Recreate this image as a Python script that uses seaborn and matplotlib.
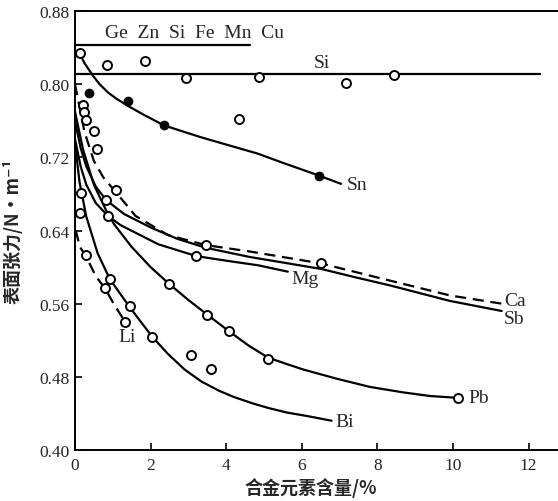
import numpy as np
import pandas as pd
import seaborn as sns
import matplotlib.pyplot as plt

# curves (alloy content %, surface tension N/m)
sn_x = [0.12, 0.25, 0.48, 0.65, 0.87, 1.1, 1.41, 1.8, 2.35, 2.8, 3.33, 4.0, 4.84, 5.5, 6.46, 7.04]
sn_y = [0.834, 0.823, 0.809, 0.800, 0.791, 0.784, 0.776, 0.767, 0.755, 0.749, 0.742, 0.734, 0.724, 0.714, 0.700, 0.691]
sn_pts_x = [0.37, 1.41, 2.35, 6.46]
sn_pts_y = [0.790, 0.782, 0.755, 0.700]

si_x = [0, 12.3]
si_y = [0.811, 0.811]
si_pts_x = [0.12, 0.85, 1.86, 2.95, 4.33, 4.87, 7.17, 8.44]
si_pts_y = [0.834, 0.821, 0.825, 0.807, 0.762, 0.808, 0.801, 0.810]

ge_x = [0, 4.63]
ge_y = [0.843, 0.843]

ca_x = [0, 0.25, 0.5, 0.75, 1.08, 1.6, 2.46, 3.47, 4.63, 6.51, 8.16, 9.92, 11.29]
ca_y = [0.80, 0.748, 0.716, 0.698, 0.682, 0.656, 0.635, 0.624, 0.617, 0.604, 0.587, 0.569, 0.560]
ca_pts_x = [0.22, 0.25, 0.29, 0.50, 0.57, 1.08, 3.47, 6.51]
ca_pts_y = [0.777, 0.770, 0.761, 0.749, 0.729, 0.684, 0.624, 0.604]

sb_x = [0, 0.15, 0.3, 0.55, 0.83, 1.3, 2.02, 2.7, 3.47, 4.63, 5.5, 6.51, 7.4, 8.33, 9.92, 11.29]
sb_y = [0.76, 0.73, 0.71, 0.688, 0.673, 0.658, 0.643, 0.631, 0.621, 0.611, 0.605, 0.598, 0.589, 0.580, 0.563, 0.552]
sb_pts_x = [0.83]
sb_pts_y = [0.673]

mg_x = [0, 0.15, 0.3, 0.55, 0.87, 1.2, 1.58, 2.2, 3.21, 4.0, 4.84, 5.63]
mg_y = [0.74, 0.71, 0.69, 0.670, 0.656, 0.646, 0.638, 0.625, 0.612, 0.607, 0.602, 0.595]
mg_pts_x = [0.12, 0.17, 0.87, 3.21]
mg_pts_y = [0.659, 0.681, 0.656, 0.612]

pb_x = [0, 0.21, 0.5, 0.87, 1.05, 1.5, 2.0, 2.48, 3.0, 3.5, 4.07, 4.6, 5.11, 5.6, 6.04, 6.92, 7.8, 8.68, 9.4, 10.14]
pb_y = [0.77, 0.729, 0.69, 0.658, 0.646, 0.622, 0.600, 0.582, 0.564, 0.548, 0.530, 0.514, 0.501, 0.494, 0.488, 0.478, 0.469, 0.463, 0.459, 0.457]
pb_pts_x = [2.48, 3.50, 4.07, 5.11, 10.14]
pb_pts_y = [0.582, 0.548, 0.530, 0.500, 0.457]

bi_x = [0, 0.12, 0.3, 0.6, 0.92, 1.45, 2.04, 2.46, 2.9, 3.34, 3.8, 4.2, 4.7, 5.11, 5.6, 6.16, 6.79]
bi_y = [0.735, 0.693, 0.655, 0.615, 0.587, 0.556, 0.524, 0.505, 0.488, 0.475, 0.465, 0.458, 0.451, 0.446, 0.441, 0.437, 0.432]
bi_pts_x = [0.92, 1.45, 2.04, 3.06, 3.59]
bi_pts_y = [0.587, 0.557, 0.524, 0.504, 0.489]

li_x = [0.02, 0.13, 0.29, 0.55, 0.79, 1.05, 1.33]
li_y = [0.64, 0.622, 0.612, 0.590, 0.577, 0.558, 0.540]
li_pts_x = [0.29, 0.79, 1.33]
li_pts_y = [0.613, 0.577, 0.540]

x_ticks = [0, 2, 4, 6, 8, 10, 12]
y_ticks = [0.40, 0.48, 0.56, 0.64, 0.72, 0.80, 0.88]

sns.set_style("ticks")
serif = ['Liberation Serif', 'DejaVu Serif']
cjk = ['Noto Sans CJK SC', 'DejaVu Sans']
plt.rcParams['font.family'] = serif

fig = plt.figure(figsize=(5.58, 5.02), dpi=100)
ax = fig.add_axes([75 / 558, 1 - 451 / 502, 483 / 558, 439 / 502])

lw = 1.6
solid = [(sn_x, sn_y), (si_x, si_y), (ge_x, ge_y), (sb_x, sb_y),
         (mg_x, mg_y), (pb_x, pb_y), (bi_x, bi_y)]
for xs, ys in solid:
    sns.lineplot(x=xs, y=ys, ax=ax, color='black', linewidth=lw, estimator=None)
for xs, ys in [(ca_x, ca_y), (li_x, li_y)]:
    sns.lineplot(x=xs, y=ys, ax=ax, color='black', linewidth=lw,
                 linestyle=(0, (5, 3)), estimator=None)

open_pts = [(si_pts_x, si_pts_y), (ca_pts_x, ca_pts_y), (sb_pts_x, sb_pts_y),
            (mg_pts_x, mg_pts_y), (pb_pts_x, pb_pts_y), (bi_pts_x, bi_pts_y),
            (li_pts_x, li_pts_y)]
for xs, ys in open_pts:
    sns.scatterplot(x=xs, y=ys, ax=ax, marker='o', s=42, facecolor='white',
                    edgecolor='black', linewidth=1.4, zorder=4)
sns.scatterplot(x=sn_pts_x, y=sn_pts_y, ax=ax, marker='o', s=42,
                color='black', edgecolor='black', zorder=4)

fs = 14
ax.text(3.17, 0.857, 'Ge  Zn  Si  Fe  Mn  Cu', ha='center', va='center', fontsize=fs)
ax.text(6.53, 0.824, 'Si', ha='center', va='center', fontsize=fs)
ax.text(7.2, 0.690, 'Sn', ha='left', va='center', fontsize=fs)
ax.text(5.72, 0.587, 'Mg', ha='left', va='center', fontsize=fs)
ax.text(11.35, 0.564, 'Ca', ha='left', va='center', fontsize=fs)
ax.text(11.35, 0.544, 'Sb', ha='left', va='center', fontsize=fs)
ax.text(10.4, 0.457, 'Pb', ha='left', va='center', fontsize=fs)
ax.text(6.9, 0.431, 'Bi', ha='left', va='center', fontsize=fs)
ax.text(1.15, 0.524, 'Li', ha='left', va='center', fontsize=fs)

ax.set_xlim(0, 12.78)
ax.set_ylim(0.40, 0.88)
ax.set_xticks(x_ticks)
ax.set_yticks(y_ticks)
ax.set_xticklabels([str(t) for t in x_ticks])
ax.set_yticklabels([f'{t:.2f}' for t in y_ticks])
ax.tick_params(direction='in', length=5, width=1.2, labelsize=12.5, color='black')
ax.tick_params(axis='x', pad=5)
ax.tick_params(axis='y', pad=4)

for side in ['left', 'bottom', 'top']:
    ax.spines[side].set_visible(True)
    ax.spines[side].set_linewidth(1.4)
    ax.spines[side].set_color('black')
ax.spines['right'].set_visible(False)

ax.set_xlabel('合金元素含量/%', fontsize=13, family=cjk, fontweight='bold')
ax.set_ylabel('表面张力/N·m⁻¹', fontsize=13, family=cjk, fontweight='bold')
ax.xaxis.set_label_coords(0.487, -0.062)
ax.yaxis.set_label_coords(-0.108, 0.5)

fig.savefig('out.png', dpi=100)
